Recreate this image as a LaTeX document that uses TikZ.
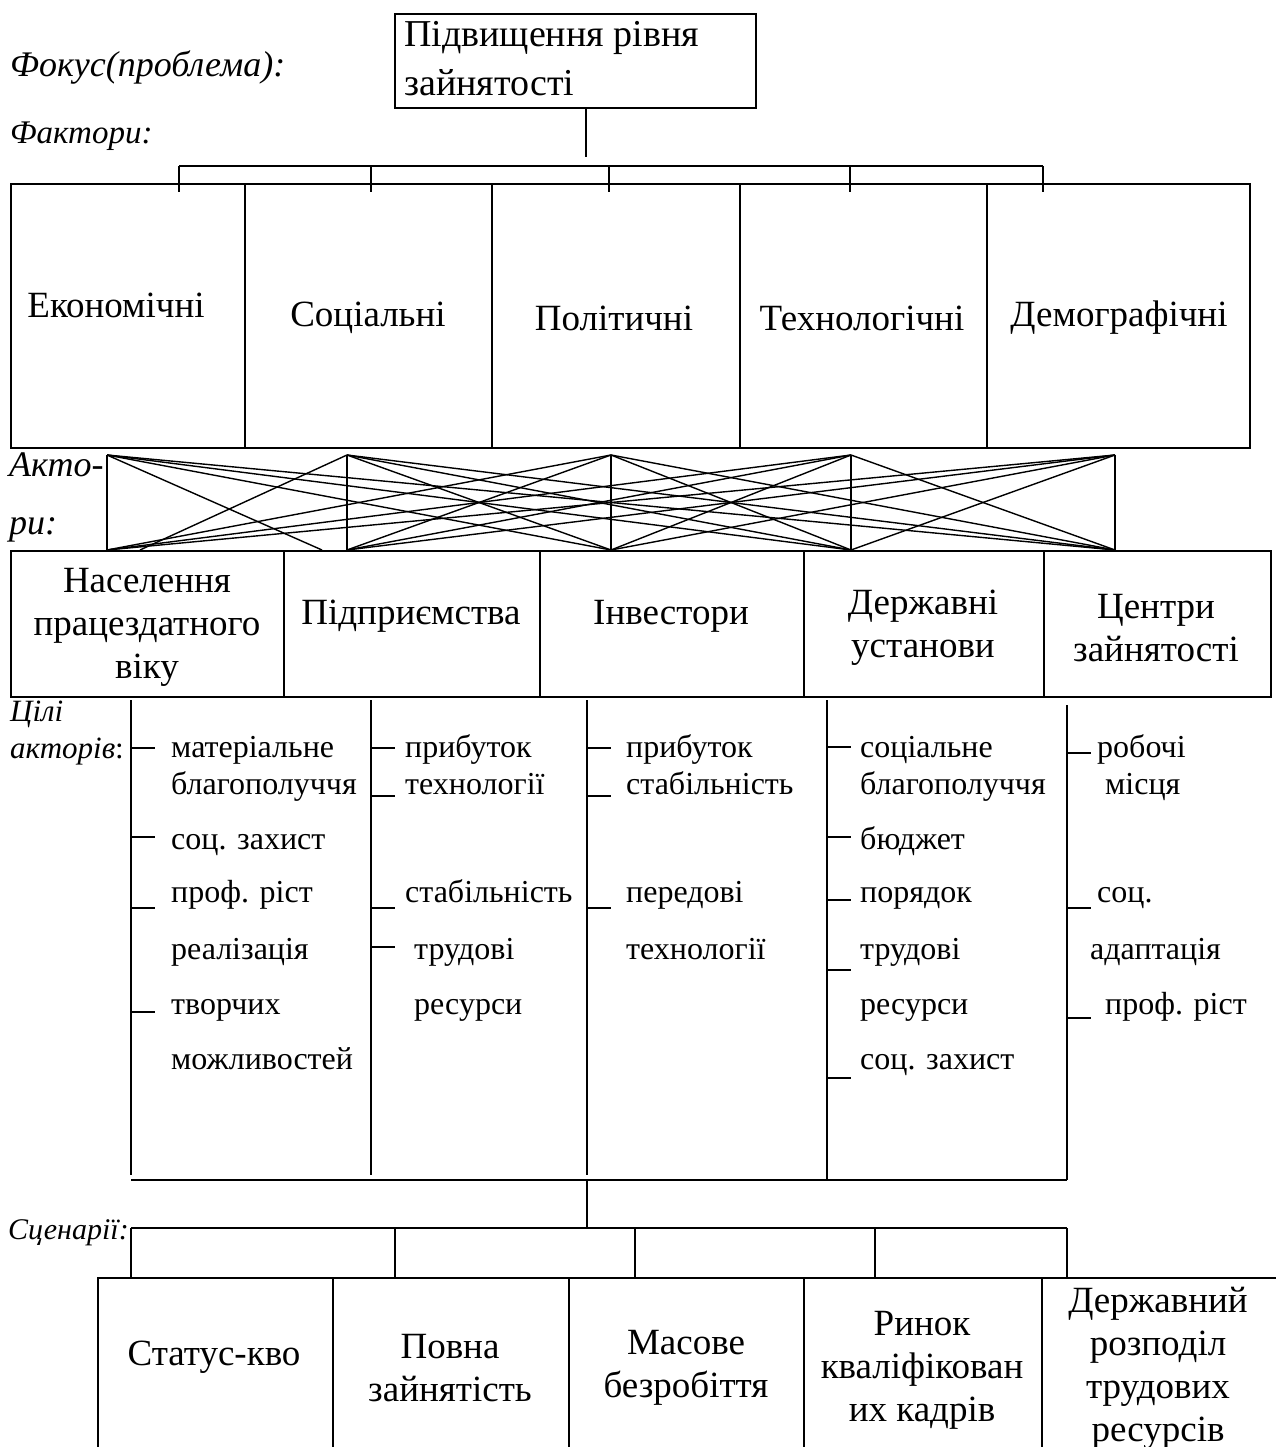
\documentclass[tikz,border=0pt]{standalone}
\usepackage{fontspec}
\setmainfont{Liberation Serif}
\newcommand{\boxfont}{\fontsize{37}{43}\selectfont}
\newcommand{\goalfont}{\fontsize{32}{36}\selectfont}
\begin{document}
\begin{tikzpicture}[x=1pt,y=-1pt,
  frame/.style={draw, line width=1.8pt, inner sep=0pt, anchor=north west},
  boxtext/.style={font=\boxfont, align=center, inner sep=0pt},
  wire/.style={line width=1.4pt},
  thick rule/.style={line width=2.4pt},
  goal/.style={font=\goalfont, anchor=mid west, inner sep=0pt},
  tag/.style={anchor=mid west, inner sep=0pt}]
\useasboundingbox (0,0) rectangle (1275,1447);

% ---------- focus ----------
\node[tag, font=\fontsize{36}{40}\selectfont\itshape] (lfocus) at (10,74) {Фокус(проблема):};
\node[frame, minimum width=361, minimum height=94] (focus) at (394,13) {};
\begin{scope}
  \clip (394,13) rectangle (755,100);
  \node[tag, font=\fontsize{38}{44}\selectfont] (focus1) at (404,44) {Підвищення рівня};
  \node[tag, font=\fontsize{38}{44}\selectfont] (focus2) at (404,93) {зайнятості};
\end{scope}

% ---------- factors ----------
\node[tag, font=\fontsize{33}{38}\selectfont\itshape] (lfactors) at (10,141) {Фактори:};
\coordinate (fdrop) at (586,157);
\draw[wire] (fdrop |- focus.south) -- (fdrop);
\foreach \n/\x in {1/179,2/371,3/609,4/850,5/1043}
  \coordinate (fb\n) at (\x,166);
\draw[wire] (fb1) -- (fb5);
\foreach \n in {1,...,5} \draw[wire] (fb\n) -- ++(0,26);

\node[frame, minimum width=234, minimum height=264] (f1) at (10,183) {};
\node[frame, minimum width=247, minimum height=264] (f2) at (244,183) {};
\node[frame, minimum width=248, minimum height=264] (f3) at (491,183) {};
\node[frame, minimum width=247, minimum height=264] (f4) at (739,183) {};
\node[frame, minimum width=263, minimum height=264] (f5) at (986,183) {};
\node[boxtext] (f1t) at (116,305) {Економічні};
\node[boxtext] (f2t) at (368,318) {Соціальні};
\node[boxtext] (f3t) at (614,318) {Політичні};
\node[boxtext] (f4t) at (862,318) {Технологічні};
\node[boxtext] (f5t) at (1119,318) {Демографічні};

% ---------- factor / actor links ----------
\node[tag, font=\fontsize{36}{40}\selectfont\itshape] (lactors1) at (9,474) {Акто-};
\node[tag, font=\fontsize{36}{40}\selectfont\itshape] (lactors2) at (9,532) {ри:};
\foreach \n/\x in {1/107,2/347,3/611,4/851,5/1115}{
  \coordinate (t\n) at (\x,455);
  \coordinate (b\n) at (\x,550);
}
\coordinate (b1x) at (140,550);
\coordinate (b2x) at (322,550);
\foreach \i in {1,...,5}{
  \foreach \j in {1,...,5}{
    \ifnum\i\j=12 \else\ifnum\i\j=21 \else
      \draw[wire] (t\i) -- (b\j);
    \fi\fi
  }
}
\draw[wire] (t1) -- (b2x);
\draw[wire] (t2) -- (b1x);

% ---------- actors ----------
\node[frame, minimum width=273, minimum height=146] (a1) at (10,550) {};
\node[frame, minimum width=256, minimum height=146] (a2) at (283,550) {};
\node[frame, minimum width=264, minimum height=146] (a3) at (539,550) {};
\node[frame, minimum width=240, minimum height=146] (a4) at (803,550) {};
\node[frame, minimum width=227, minimum height=146] (a5) at (1043,550) {};
\node[boxtext] (a1t) at (147,627) {Населення\\працездатного\\віку};
\node[boxtext] (a2t) at (411,616) {Підприємства};
\node[boxtext] (a3t) at (671,616) {Інвестори};
\node[boxtext] (a4t) at (923,628) {Державні\\установи};
\node[boxtext] (a5t) at (1156,628) {Центри\\зайнятості};

% ---------- goals ----------
\node[tag, font=\fontsize{31}{36}\selectfont\itshape] (lgoals1) at (10,719) {Цілі};
\node[tag, font=\fontsize{31}{36}\selectfont] (lgoals2) at (10,756) {\textit{акторів}:};

\foreach \n/\x/\ya in {1/131/700,2/371/700,3/587/700,4/827/700,5/1067/705}{
  \coordinate (c\n) at (\x,\ya);
}
\coordinate (c1e) at (131,1175);
\coordinate (c2e) at (371,1175);
\coordinate (c3e) at (587,1175);
\coordinate (c4e) at (827,1180);
\coordinate (c5e) at (1067,1180);
\foreach \n in {1,...,5} \draw[wire] (c\n) -- (c\n e);

% column 1
\foreach \y in {748,837,908,1012} \draw[wire] (131,\y) -- ++(24,0);
\node[goal] (g11) at (171,755) {матеріальне};
\node[goal] (g12) at (171,792) {благополуччя};
\node[goal] (g13) at (171,847) {соц. захист};
\node[goal] (g14) at (171,900) {проф. ріст};
\node[goal] (g15) at (171,957) {реалізація};
\node[goal] (g16) at (171,1012) {творчих};
\node[goal] (g17) at (171,1067) {можливостей};
% column 2
\foreach \y in {748,796,908,947} \draw[wire] (371,\y) -- ++(24,0);
\node[goal] (g21) at (405,755) {прибуток};
\node[goal] (g22) at (405,792) {технології};
\node[goal] (g23) at (405,900) {стабільність};
\node[goal] (g24) at (414,957) {трудові};
\node[goal] (g25) at (414,1012) {ресурси};
% column 3
\foreach \y in {748,796,908} \draw[wire] (587,\y) -- ++(24,0);
\node[goal] (g31) at (626,755) {прибуток};
\node[goal] (g32) at (626,792) {стабільність};
\node[goal] (g33) at (626,900) {передові};
\node[goal] (g34) at (626,957) {технології};
% column 4
\foreach \y in {747,837,900,970,1078} \draw[wire] (827,\y) -- ++(24,0);
\node[goal] (g41) at (860,755) {соціальне};
\node[goal] (g42) at (860,792) {благополуччя};
\node[goal] (g43) at (860,847) {бюджет};
\node[goal] (g44) at (860,900) {порядок};
\node[goal] (g45) at (860,957) {трудові};
\node[goal] (g46) at (860,1012) {ресурси};
\node[goal] (g47) at (860,1067) {соц. захист};
% column 5
\foreach \y in {753,908,1018} \draw[wire] (1067,\y) -- ++(24,0);
\node[goal] (g51) at (1097,755) {робочі};
\node[goal] (g52) at (1105,792) {місця};
\node[goal] (g53) at (1097,900) {соц.};
\node[goal] (g54) at (1090,957) {адаптація};
\node[goal] (g55) at (1105,1012) {проф. ріст};

% ---------- joining goals to scenarios ----------
\coordinate (j1) at (131,1180);
\coordinate (j2) at (1067,1180);
\coordinate (jm) at (587,1180);
\coordinate (jd) at (587,1228);
\draw[thick rule] (j1) -- (j2);
\draw[wire] (jm) -- (jd);
\foreach \n/\x in {1/131,2/395,3/635,4/875,5/1067}
  \coordinate (sb\n) at (\x,1228);
\draw[thick rule] (sb1) -- (sb5);
\foreach \n in {1,...,5} \draw[wire] (sb\n) -- ++(0,49);

% ---------- scenarios ----------
\node[tag, font=\fontsize{30}{34}\selectfont\itshape] (lscen) at (8,1237) {Сценарії:};
\node[frame, minimum width=235, minimum height=200] (s1) at (97,1277) {};
\node[frame, minimum width=236, minimum height=200] (s2) at (332,1277) {};
\node[frame, minimum width=235, minimum height=200] (s3) at (568,1277) {};
\node[frame, minimum width=238, minimum height=200] (s4) at (803,1277) {};
\node[frame, minimum width=260, minimum height=200] (s5) at (1041,1277) {};
\node[boxtext] (s1t) at (214,1357) {Статус-кво};
\node[boxtext] (s2t) at (450,1368) {Повна\\зайнятість};
\node[boxtext] (s3t) at (686,1368) {Масове\\безробіття};
\node[boxtext] (s4t) at (922,1370) {Ринок\\кваліфікован\\их кадрів};
\node[boxtext] (s5t) at (1158,1368) {Державний\\розподіл\\трудових\\ресурсів};
\end{tikzpicture}
\end{document}
